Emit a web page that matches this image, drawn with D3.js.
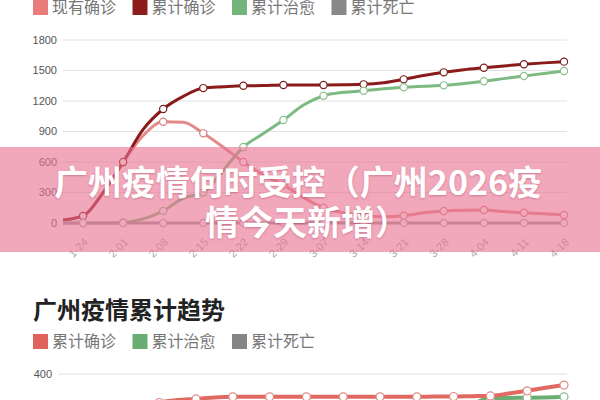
<!DOCTYPE html>
<html>
<head>
<meta charset="utf-8">
<script src="https://cdn.jsdelivr.net/npm/d3@7"></script>
<style>
  body { margin: 0; background: #fff; }
  svg { display: block; }
</style>
</head>
<body>
<svg width="600" height="400"></svg>
<script>
/* guangzhou epidemic trend, two stacked line charts + banner */
const dates = ["1-21", "1-24", "1-28", "2-01", "2-04", "2-08", "2-11", "2-15", "2-18",
               "2-22", "2-25", "2-29", "3-03", "3-07", "3-10", "3-14", "3-17", "3-21",
               "3-24", "3-28", "4-01", "4-04", "4-07", "4-11", "4-14", "4-18"];
// only every other date gets a tick label and a marker
const tickDates = dates.filter((d, i) => i % 2 === 1);

// chart 1
const currentConfirmed = [30, 70, 295, 595, 860, 996, 990, 882, 745, 600, 470, 375, 250,
                          150, 100, 75, 62, 72, 100, 118, 126, 128, 112, 101, 90, 79];
const totalConfirmed = [30, 70, 300, 600, 920, 1121, 1245, 1327, 1340, 1350, 1352, 1357, 1357,
                        1358, 1360, 1364, 1380, 1413, 1450, 1482, 1508, 1527, 1545, 1561, 1575, 1587];
const totalCured = [0, 0, 0, 5, 40, 118, 245, 300, 520, 747, 880, 1013, 1160,
                    1252, 1285, 1300, 1320, 1335, 1345, 1354, 1372, 1394, 1420, 1446, 1470, 1495];
const totalDead = [0, 0, 0, 0, 0, 0, 1, 1, 1, 1, 1, 1, 1, 1, 1, 1, 1, 1, 1, 1, 1, 1, 1, 1, 1, 1];
const yTicks1 = [0, 300, 600, 900, 1200, 1500, 1800];

// chart 2 (mostly cut off by the bottom edge)
const totalConfirmed2 = [200, 230, 255, 305, 313, 317, 322, 324, 324, 324, 324, 324, 324,
                         324, 324, 324, 324, 324, 325, 325, 326, 327, 335, 344, 354, 363];
const totalCured2 = [5, 10, 20, 35, 50, 70, 90, 110, 130, 150, 170, 185, 200,
                     215, 230, 240, 250, 260, 270, 280, 300, 319, 320, 321, 322, 324];
const totalDead2 = [0, 0, 0, 1, 1, 1, 1, 1, 1, 1, 1, 1, 1, 1, 1, 1, 1, 1, 1, 1, 1, 1, 1, 1, 1, 1];
const yTicks2 = [400];

const cjk = "'Noto Sans CJK SC', 'Noto Sans', sans-serif";
const latin = "'Liberation Sans', Arial, sans-serif";

const svg = d3.select("svg");

function legend(g, items, y) {
    items.forEach((it, i) => {
        const row = g.append("g").attr("transform", `translate(${33 + i * 99.5}, ${y})`);
        row.append("rect")
            .attr("x", 0).attr("y", -13)
            .attr("width", 15).attr("height", 15)
            .attr("fill", it.color);
        row.append("text")
            .attr("x", 19).attr("y", 0)
            .attr("font-family", cjk)
            .attr("font-size", "16px")
            .attr("fill", "#777")
            .text(it.name);
    });
}

function drawLines(g, x, y, series, width, r) {
    const line = d3.line()
        .x((d, i) => x(dates[i]))
        .y(d => y(d))
        .curve(d3.curveMonotoneX);

    series.forEach(s => {
        g.append("path")
            .datum(s.values)
            .attr("fill", "none")
            .attr("stroke", s.line)
            .attr("stroke-width", width)
            .attr("stroke-linejoin", "round")
            .attr("d", line);

        g.selectAll(null)
            .data(s.values.map((v, i) => ({ v, d: dates[i] })).filter(p => tickDates.includes(p.d)))
            .enter()
            .append("circle")
            .attr("cx", p => x(p.d))
            .attr("cy", p => y(p.v))
            .attr("r", r)
            .attr("fill", "#fff")
            .attr("stroke", s.marker)
            .attr("stroke-width", 1.2);
    });
}

// --- chart 1 ---
const c1 = svg.append("g");
legend(c1, [
    { name: "现有确诊", color: "#e97b7b" },
    { name: "累计确诊", color: "#8e1c1c" },
    { name: "累计治愈", color: "#74b47a" },
    { name: "累计死亡", color: "#888" }
], 13);

const x1 = d3.scalePoint().domain(dates).range([63, 564]);
const y1 = d3.scaleLinear().domain([0, 1800]).range([223, 40]);

c1.selectAll(".grid1")
    .data(yTicks1)
    .enter()
    .append("line")
    .attr("x1", 63).attr("x2", 567)
    .attr("y1", d => y1(d)).attr("y2", d => y1(d))
    .attr("stroke", "#e2e2e2");

c1.selectAll(".ylab1")
    .data(yTicks1)
    .enter()
    .append("text")
    .attr("x", 57)
    .attr("y", d => y1(d))
    .attr("dy", "0.35em")
    .attr("text-anchor", "end")
    .attr("font-family", latin)
    .attr("font-size", "11px")
    .attr("fill", "#555")
    .text(d => d);

c1.selectAll(".xlab1")
    .data(tickDates)
    .enter()
    .append("text")
    .attr("transform", d => `translate(${x1(d) + 3}, 240) rotate(-45)`)
    .attr("text-anchor", "end")
    .attr("dy", "0.35em")
    .attr("font-family", latin)
    .attr("font-size", "11px")
    .attr("fill", "#aaa")
    .text(d => d);

drawLines(c1, x1, y1, [
    { values: currentConfirmed, line: "#e58a8a", marker: "#d98080" },
    { values: totalConfirmed, line: "#8b1a1a", marker: "#7a2020" },
    { values: totalCured, line: "#7cba82", marker: "#8cc090" },
    { values: totalDead, line: "#999", marker: "#aaa" }
], 3, 3.6);

// --- banner overlay ---
svg.append("rect")
    .attr("x", 0).attr("y", 147)
    .attr("width", 600).attr("height", 105)
    .attr("fill", "rgb(233,115,145)")
    .attr("opacity", 0.62);

[["广州疫情何时受控（广州2026疫", 298, 195], ["情今天新增）", 307, 235]].forEach(([t, x, y]) => {
    svg.append("text")
        .attr("x", x).attr("y", y)
        .attr("text-anchor", "middle")
        .attr("font-family", cjk)
        .attr("font-weight", "bold")
        .attr("font-size", "34px")
        .attr("fill", "#fff")
        .style("text-shadow", "0 1px 2px rgba(150,40,70,0.35)")
        .text(t);
});

// --- chart 2 ---
const c2 = svg.append("g");
c2.append("text")
    .attr("x", 33).attr("y", 319)
    .attr("font-family", cjk)
    .attr("font-weight", "bold")
    .attr("font-size", "24px")
    .attr("fill", "#222")
    .text("广州疫情累计趋势");

legend(c2, [
    { name: "累计确诊", color: "#e0625a" },
    { name: "累计治愈", color: "#6aad72" },
    { name: "累计死亡", color: "#858585" }
], 347);

const x2 = d3.scalePoint().domain(dates).range([104, 564]);
const y2 = d3.scaleLinear().domain([0, 400]).range([494, 374]);

c2.selectAll(".grid2")
    .data(yTicks2)
    .enter()
    .append("line")
    .attr("x1", 58).attr("x2", 567)
    .attr("y1", d => y2(d)).attr("y2", d => y2(d))
    .attr("stroke", "#e2e2e2");

c2.selectAll(".ylab2")
    .data(yTicks2)
    .enter()
    .append("text")
    .attr("x", 52)
    .attr("y", d => y2(d))
    .attr("dy", "0.35em")
    .attr("text-anchor", "end")
    .attr("font-family", latin)
    .attr("font-size", "11px")
    .attr("fill", "#555")
    .text(d => d);

drawLines(c2, x2, y2, [
    { values: totalDead2, line: "#888", marker: "#999" },
    { values: totalCured2, line: "#6aad72", marker: "#8cc090" },
    { values: totalConfirmed2, line: "#e06a62", marker: "#e08a85" }
], 4, 4);
</script>
</body>
</html>
